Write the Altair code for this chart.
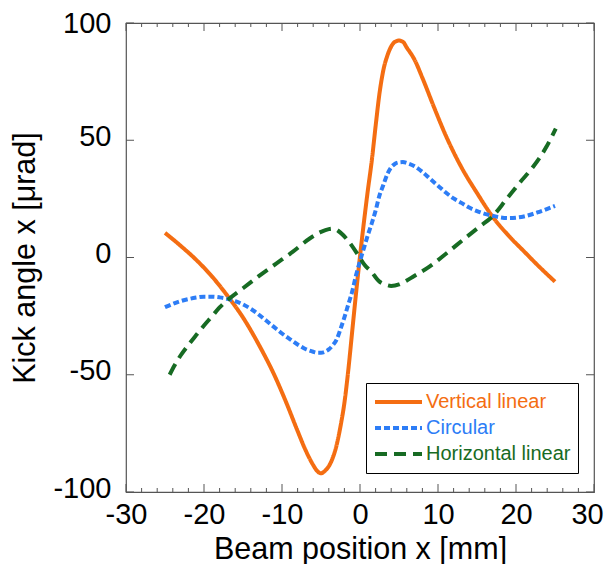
import altair as alt
import pandas as pd

# ---- data ----
series_names = ["Vertical linear", "Circular", "Horizontal linear"]
series_colors = ["#F46D12", "#2D7DF6", "#176B23"]
series_dashes = [[1, 0], [6, 3], [12, 7]]

x_vertical = [-25, -23, -21, -19, -17, -15, -13, -11, -9.5, -8, -7, -6, -5.5, -5, -4.5, -4, -3.5, -3,
              -2.5, -2, -1.5, -1, -0.5, 0, 0.5, 1, 1.5, 2, 2.5, 3, 3.5, 4, 4.5, 5, 5.5, 6, 7, 8, 9.5,
              11, 13, 15, 17, 19, 21, 23, 25]
y_vertical = [10.5, 5, -1, -8, -16.3, -25.6, -37, -50, -61.5, -74, -82, -88.5, -91, -92, -91, -89,
              -85.5, -80, -72, -62, -48, -31.5, -15, 0.5, 15, 28.5, 41, 56, 70, 80, 86, 90, 92, 92.5,
              92, 89.5, 84.3, 76.6, 64, 52, 38.5, 27.5, 17.4, 9.5, 2.7, -4, -10.3]

x_circular = [-25, -23, -21, -20, -19, -18, -17, -16, -15, -14, -13, -12, -11, -10, -9, -8, -7, -6,
              -5.5, -5, -4.5, -4, -3.5, -3, -2.5, -2, -1.5, -1, -0.5, 0, 0.5, 1, 1.5, 2, 2.5, 3, 3.5,
              4, 4.5, 5, 5.5, 6, 7, 8, 9, 10, 11, 12, 13, 14, 15, 16, 17, 18, 19, 20, 21, 23, 25]
y_circular = [-21.2, -18.6, -17.1, -16.7, -16.7, -17, -17.6, -18.6, -20, -21.9, -24.3, -27, -29.7,
              -32.4, -34.8, -37.1, -39, -40.2, -40.6, -40.6, -40.2, -39.2, -37.5, -35, -30.5, -25.5,
              -20, -14.5, -7.5, -1.5, 4, 9.5, 14.5, 20, 26.5, 31, 35.5, 38.5, 40, 40.6, 40.7, 40.3,
              38.9, 36.5, 33.5, 30.6, 27.7, 25.2, 23.3, 21.3, 19.8, 18.6, 17.8, 17.1, 16.8, 17.0,
              17.5, 19.5, 22]

x_horizontal = [-24.4, -23.8, -23, -22, -21, -20, -19, -18, -16.7, -15, -12.8, -10.7, -8.6, -6.4,
                -5, -4, -3.4, -2.4, -1.1, -0.25, 0.6, 1.46, 2.5, 3.3, 4.0, 5, 6, 6.8, 8.9, 11.1,
                13.2, 15.3, 17, 18.7, 20.4, 22.2, 23.9, 25.1]
y_horizontal = [-50, -46.2, -41.8, -37.3, -33.1, -29, -25.2, -21.3, -17.4, -13.1, -7.5, -2.5, 2.5, 8.2,
                10.9, 12.1, 12.3, 10.3, 5.3, 1.1, -3.2, -6.1, -10.3, -11.6, -12.1, -11.5, -9.8, -8.2,
                -3.9, 1.8, 7.5, 13.1, 17.6, 24.5, 31.6, 38.7, 47.2, 55]

x_major_ticks = [-30, -20, -10, 0, 10, 20, 30]
x_minor_ticks = [-28, -26, -24, -22, -18, -16, -14, -12, -8, -6, -4, -2,
                 2, 4, 6, 8, 12, 14, 16, 18, 22, 24, 26, 28]
y_ticks = [-100, -50, 0, 50, 100]

x_title = "Beam position x [mm]"
y_title = "Kick angle x [\u03bcrad]"

# ---- tables ----
df_v = pd.DataFrame({"x": x_vertical, "y": y_vertical, "series": series_names[0]})
df_c = pd.DataFrame({"x": x_circular, "y": y_circular, "series": series_names[1]})
df_h = pd.DataFrame({"x": x_horizontal, "y": y_horizontal, "series": series_names[2]})
df_xmaj = pd.DataFrame({"x": x_major_ticks})
df_xmin = pd.DataFrame({"x": x_minor_ticks})
df_y = pd.DataFrame({"y": y_ticks})

FONT = "Liberation Sans"
TICK_COLOR = "#555555"
W, H = 468, 469
MAJOR, MINOR = 8, 4

xscale = alt.Scale(domain=[-30, 30], nice=False, zero=False)
yscale = alt.Scale(domain=[-100, 100], nice=False, zero=False)

label_color_expr = " : ".join(
    f"datum.label == '{n}' ? '{c}'" for n, c in zip(series_names[:-1], series_colors[:-1])
) + f" : '{series_colors[-1]}'"

legend = alt.Legend(
    title=None, orient="none", legendX=240, legendY=360,
    strokeColor="black", fillColor="white", padding=7,
    symbolType="stroke", symbolSize=2209, symbolStrokeWidth=4, clipHeight=24,
    rowPadding=2, labelFont=FONT, labelFontSize=20, labelOffset=2, labelLimit=300,
    labelColor={"expr": label_color_expr},
)
color_enc = alt.Color("series:N", scale=alt.Scale(domain=series_names, range=series_colors), legend=legend)
dash_enc = alt.StrokeDash("series:N", scale=alt.Scale(domain=series_names, range=series_dashes), legend=legend)

num_label = "'' + datum.value"

ax_x = alt.Axis(orient="bottom", values=x_major_ticks, ticks=False, tickSize=0, domain=False,
                grid=False, labelPadding=8, labelExpr=num_label, labelFlush=False,
                labelOffset={"condition": {"test": f"datum.value == {x_major_ticks[-1]}", "value": -7},
                             "value": 0},
                title=x_title, titlePadding=5)
ax_y = alt.Axis(orient="left", values=y_ticks, ticks=False, tickSize=0, domain=False, grid=False,
                labelPadding=15, labelExpr=num_label, labelFlush=False,
                labelOffset={"condition": {"test": f"datum.value == {y_ticks[-1]}", "value": 0},
                             "value": -4},
                title=y_title, titlePadding=12)

X = alt.X("x:Q", scale=xscale, axis=ax_x)
Y = alt.Y("y:Q", scale=yscale, axis=ax_y)

line_props = dict(strokeWidth=4, interpolate="monotone", strokeCap="butt")


def series_layer(df):
    return alt.Chart(df).mark_line(**line_props).encode(
        x=X, y=Y, color=color_enc, strokeDash=dash_enc,
    )


def x_ticks(df, length, top):
    y0, y1 = (0, length) if top else (H, H - length)
    return alt.Chart(df).mark_rule(color=TICK_COLOR, strokeWidth=1).encode(
        x=X, y=alt.value(y0), y2=alt.value(y1)
    )


def y_ticks_layer(df, length, right):
    x0, x1 = (W, W - length) if right else (0, length)
    return alt.Chart(df).mark_rule(color=TICK_COLOR, strokeWidth=1).encode(
        y=Y, x=alt.value(x0), x2=alt.value(x1)
    )


layers = [
    series_layer(df_v),
    series_layer(df_c),
    series_layer(df_h),
    x_ticks(df_xmaj, MAJOR, False), x_ticks(df_xmin, MINOR, False),
    x_ticks(df_xmaj, MAJOR, True), x_ticks(df_xmin, MINOR, True),
    y_ticks_layer(df_y, MAJOR, False), y_ticks_layer(df_y, MAJOR, True),
]

chart = alt.layer(*layers).properties(
    width=W, height=H,
    autosize=alt.AutoSizeParams(type="none"),
    padding={"left": 118, "top": 15, "right": 10, "bottom": 72},
    background="white",
).configure_view(
    stroke=TICK_COLOR, strokeWidth=1.2,
).configure_axis(
    labelFont=FONT, labelFontSize=29, labelColor="black",
    titleFont=FONT, titleFontSize=30.5, titleFontWeight="normal", titleColor="black",
)

chart.save("out.html", embed_options={"renderer": "svg", "actions": False})
